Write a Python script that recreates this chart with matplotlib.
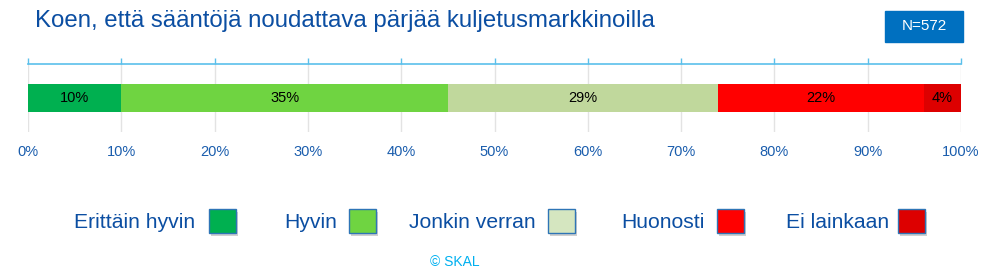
import matplotlib
matplotlib.use("Agg")
import matplotlib.pyplot as plt
from matplotlib.patches import Rectangle
from matplotlib.ticker import PercentFormatter

title = "Koen, että sääntöjä noudattava pärjää kuljetusmarkkinoilla"
categories = ["Erittäin hyvin", "Hyvin", "Jonkin verran", "Huonosti", "Ei lainkaan"]
values = [10, 35, 29, 22, 4]
bar_colors = ["#00B050", "#6FD441", "#C0D89C", "#FF0000", "#DD0000"]
legend_colors = ["#00B050", "#6FD441", "#D5E6C0", "#FF0000", "#DD0000"]
n_label = "N=572"
credit = "© SKAL"

plt.rcParams['font.family'] = ['Liberation Sans', 'DejaVu Sans']

W, H = 999, 273
fig = plt.figure(figsize=(W / 100, H / 100), dpi=100)

def fx(px):
    return px / W

def fy(py):
    return 1 - py / H

ax = fig.add_axes([fx(28), fy(132), fx(961) - fx(28), (132 - 64) / H])
left = 0
for v, c in zip(values, bar_colors):
    ax.barh(0, v, left=left, height=0.8, color=c, edgecolor='none', zorder=3)
    ax.text(left + v / 2, 0, f"{v}%", ha='center', va='center', fontsize=10.5, color='black', zorder=4)
    left += v

ax.set_xlim(0, 100)
ax.set_ylim(-1, 1)
ax.set_xticks(range(0, 101, 10))
ax.xaxis.set_major_formatter(PercentFormatter(decimals=0))
ax.set_yticks([])
ax.grid(axis='x', color='#E3E3E3', linewidth=1, zorder=0)
for s in ['left', 'right', 'bottom']:
    ax.spines[s].set_visible(False)
ax.spines['top'].set_color('#5BC0EB')
ax.spines['top'].set_linewidth(1.2)
ax.tick_params(axis='x', which='both', top=True, bottom=False, labeltop=False, labelbottom=True,
               direction='out', length=4, color='#5BC0EB', width=1,
               labelsize=10.5, labelcolor='#1A5DAD', pad=5)

# title
fig.text(fx(35), fy(21), title, fontsize=17.3, color='#0B4EA2', ha='left', va='center')

# N box
fig.patches.append(Rectangle((fx(885), fy(42)), fx(963) - fx(885), (42 - 11) / H,
                             transform=fig.transFigure, facecolor='#0070C0', edgecolor='#0070C0', lw=1))
fig.text(fx(924), fy(26.5), n_label, fontsize=11, color='white', ha='center', va='center')

# legend
text_right = [195, 337, 536, 705, 889]
patch_left = [209, 349, 548, 717, 898]
for lab, col, tr, pl in zip(categories, legend_colors, text_right, patch_left):
    fig.text(fx(tr), fy(222), lab, fontsize=15.2, color='#0B4EA2', ha='right', va='center')
    fig.patches.append(Rectangle((fx(pl + 2), fy(236)), 27 / W, 24 / H, transform=fig.transFigure,
                                 facecolor='#B0B0B0', edgecolor='none', alpha=0.6))
    fig.patches.append(Rectangle((fx(pl), fy(233)), 27 / W, 24 / H, transform=fig.transFigure,
                                 facecolor=col, edgecolor='#2E75B6', lw=1))

fig.text(fx(455), fy(262), credit, fontsize=10, color='#00B0F0', ha='center', va='center')

fig.savefig("out.png", dpi=100)
